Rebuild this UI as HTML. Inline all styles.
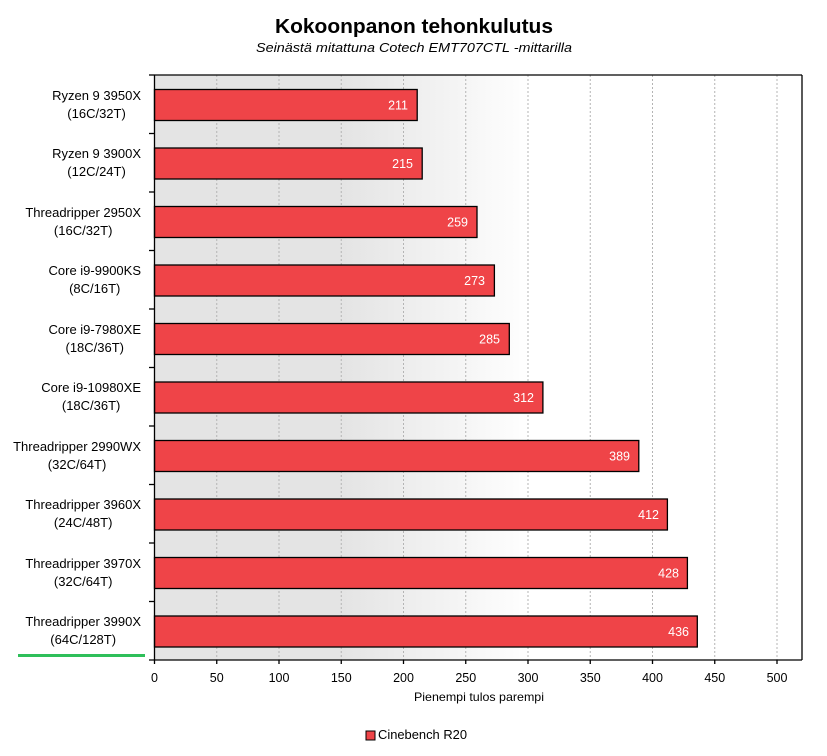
<!DOCTYPE html>
<html><head><meta charset="utf-8">
<style>
html,body{margin:0;padding:0;background:#fff;}
body{width:827px;height:756px;position:relative;overflow:hidden;font-family:"Liberation Sans",Arial,sans-serif;}
svg{position:absolute;left:0;top:0;}
.lbl{position:absolute;right:686px;font-size:13px;line-height:18px;text-align:center;white-space:nowrap;color:#000;}
</style></head><body>
<svg width="827" height="756" viewBox="0 0 827 756" xmlns="http://www.w3.org/2000/svg" font-family="Liberation Sans, Arial, sans-serif">
<defs>
<linearGradient id="bg" gradientUnits="userSpaceOnUse" x1="154.5" y1="0" x2="530" y2="0">
<stop offset="0" stop-color="#e4e4e4"/>
<stop offset="0.5" stop-color="#e4e4e4"/>
<stop offset="1" stop-color="#ffffff"/>
</linearGradient>
</defs>
<text x="414" y="33" font-size="20" font-weight="bold" text-anchor="middle" textLength="278" lengthAdjust="spacingAndGlyphs">Kokoonpanon tehonkulutus</text>
<text x="414" y="52" font-size="13" font-style="italic" text-anchor="middle" textLength="316" lengthAdjust="spacingAndGlyphs">Seinästä mitattuna Cotech EMT707CTL -mittarilla</text>
<rect x="154.5" y="75" width="647.5" height="585" fill="url(#bg)"/>
<g stroke="#b4b4b4" stroke-width="1" stroke-dasharray="2,2">
<line x1="216.75" y1="75" x2="216.75" y2="660"/>
<line x1="279" y1="75" x2="279" y2="660"/>
<line x1="341.25" y1="75" x2="341.25" y2="660"/>
<line x1="403.5" y1="75" x2="403.5" y2="660"/>
<line x1="465.75" y1="75" x2="465.75" y2="660"/>
<line x1="528" y1="75" x2="528" y2="660"/>
<line x1="590.25" y1="75" x2="590.25" y2="660"/>
<line x1="652.5" y1="75" x2="652.5" y2="660"/>
<line x1="714.75" y1="75" x2="714.75" y2="660"/>
<line x1="777" y1="75" x2="777" y2="660"/>
</g>
<g fill="#ef4448" stroke="#000" stroke-width="1.3">
<rect x="154.5" y="89.5" width="262.7" height="31"/>
<rect x="154.5" y="148" width="267.7" height="31"/>
<rect x="154.5" y="206.5" width="322.5" height="31"/>
<rect x="154.5" y="265" width="339.9" height="31"/>
<rect x="154.5" y="323.5" width="354.8" height="31"/>
<rect x="154.5" y="382" width="388.4" height="31"/>
<rect x="154.5" y="440.5" width="484.3" height="31"/>
<rect x="154.5" y="499" width="512.9" height="31"/>
<rect x="154.5" y="557.5" width="532.9" height="31"/>
<rect x="154.5" y="616" width="542.8" height="31"/>
</g>
<g fill="#fff" font-size="12.5" text-anchor="end">
<text x="408" y="109.5">211</text>
<text x="413" y="168">215</text>
<text x="468" y="226.5">259</text>
<text x="485" y="285">273</text>
<text x="500" y="343.5">285</text>
<text x="534" y="402">312</text>
<text x="630" y="460.5">389</text>
<text x="659" y="519">412</text>
<text x="679" y="577.5">428</text>
<text x="689" y="636">436</text>
</g>
<g stroke="#000" stroke-width="1.3" fill="none">
<line x1="154.5" y1="75" x2="802" y2="75"/>
<line x1="802" y1="75" x2="802" y2="660"/>
<line x1="154.5" y1="75" x2="154.5" y2="664"/>
<line x1="149" y1="660" x2="802" y2="660"/>
</g>
<g stroke="#000" stroke-width="1.3">
<line x1="149" y1="75" x2="154.5" y2="75"/>
<line x1="149" y1="133.5" x2="154.5" y2="133.5"/>
<line x1="149" y1="192" x2="154.5" y2="192"/>
<line x1="149" y1="250.5" x2="154.5" y2="250.5"/>
<line x1="149" y1="309" x2="154.5" y2="309"/>
<line x1="149" y1="367.5" x2="154.5" y2="367.5"/>
<line x1="149" y1="426" x2="154.5" y2="426"/>
<line x1="149" y1="484.5" x2="154.5" y2="484.5"/>
<line x1="149" y1="543" x2="154.5" y2="543"/>
<line x1="149" y1="601.5" x2="154.5" y2="601.5"/>
<line x1="216.75" y1="660" x2="216.75" y2="664"/>
<line x1="279" y1="660" x2="279" y2="664"/>
<line x1="341.25" y1="660" x2="341.25" y2="664"/>
<line x1="403.5" y1="660" x2="403.5" y2="664"/>
<line x1="465.75" y1="660" x2="465.75" y2="664"/>
<line x1="528" y1="660" x2="528" y2="664"/>
<line x1="590.25" y1="660" x2="590.25" y2="664"/>
<line x1="652.5" y1="660" x2="652.5" y2="664"/>
<line x1="714.75" y1="660" x2="714.75" y2="664"/>
<line x1="777" y1="660" x2="777" y2="664"/>
</g>
<g font-size="12.5" text-anchor="middle" fill="#000">
<text x="154.5" y="682">0</text>
<text x="216.75" y="682">50</text>
<text x="279" y="682">100</text>
<text x="341.25" y="682">150</text>
<text x="403.5" y="682">200</text>
<text x="465.75" y="682">250</text>
<text x="528" y="682">300</text>
<text x="590.25" y="682">350</text>
<text x="652.5" y="682">400</text>
<text x="714.75" y="682">450</text>
<text x="777" y="682">500</text>
</g>
<text x="479" y="701" font-size="12" text-anchor="middle" textLength="130" lengthAdjust="spacingAndGlyphs">Pienempi tulos parempi</text>
<rect x="18" y="654" width="127" height="3" fill="#2fbf5a"/>
<rect x="366" y="731" width="9" height="9" fill="#ef4448" stroke="#000" stroke-width="1"/>
<text x="378" y="739" font-size="12.5" textLength="89" lengthAdjust="spacingAndGlyphs">Cinebench R20</text>
</svg>
<div class="lbl" style="top:86.5px">Ryzen 9 3950X<br>(16C/32T)</div>
<div class="lbl" style="top:145px">Ryzen 9 3900X<br>(12C/24T)</div>
<div class="lbl" style="top:203.5px">Threadripper 2950X<br>(16C/32T)</div>
<div class="lbl" style="top:262px">Core i9-9900KS<br>(8C/16T)</div>
<div class="lbl" style="top:320.5px">Core i9-7980XE<br>(18C/36T)</div>
<div class="lbl" style="top:379px">Core i9-10980XE<br>(18C/36T)</div>
<div class="lbl" style="top:437.5px">Threadripper 2990WX<br>(32C/64T)</div>
<div class="lbl" style="top:496px">Threadripper 3960X<br>(24C/48T)</div>
<div class="lbl" style="top:554.5px">Threadripper 3970X<br>(32C/64T)</div>
<div class="lbl" style="top:613px">Threadripper 3990X<br>(64C/128T)</div>
</body></html>
